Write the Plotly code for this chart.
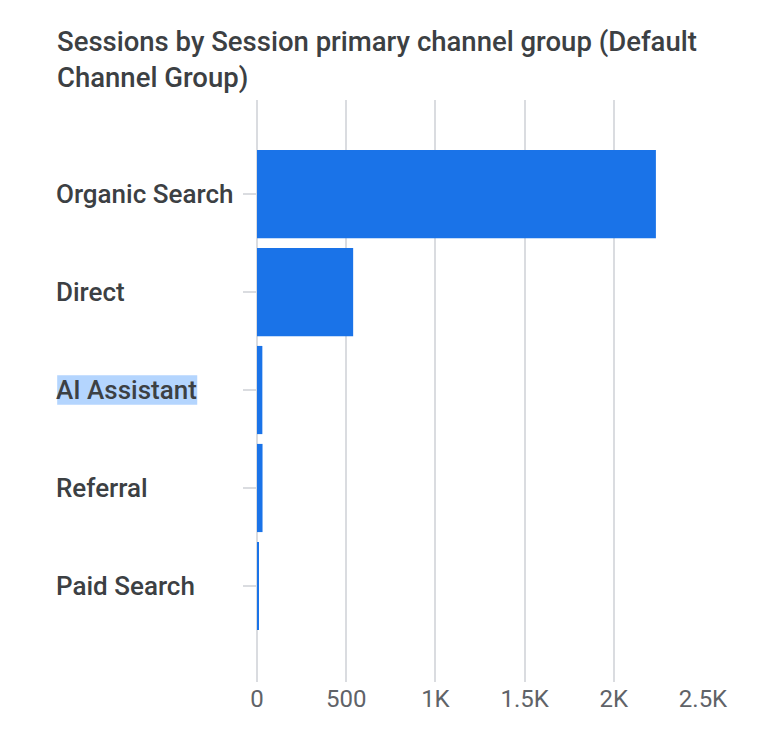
import plotly.graph_objects as go

channels = ["Organic Search", "Direct", "AI Assistant", "Referral", "Paid Search"]
sessions = [2236, 539, 30, 31, 9]
tick_vals = [0, 500, 1000, 1500, 2000, 2500]
tick_text = ["0", "500", "1K", "1.5K", "2K", "2.5K"]
highlighted = "AI Assistant"

fig = go.Figure(
    go.Bar(
        x=sessions,
        y=channels,
        orientation="h",
        marker=dict(color="#1a73e8", line=dict(width=0)),
        width=0.9,
    )
)

# category labels, left aligned like the GA card
for name in channels:
    fig.add_annotation(
        x=-0.455, xref="paper", xanchor="left",
        y=name, yref="y",
        text=name, showarrow=False,
        font=dict(size=26, color="#3c4043", weight=500),
    )

# selection highlight behind one category label
hi = channels.index(highlighted)
fig.add_shape(
    type="rect",
    xref="paper", yref="y",
    x0=-0.448, x1=-0.134,
    y0=hi - 0.15, y1=hi + 0.15,
    fillcolor="#b4d5fe", line=dict(width=0),
    layer="below",
)

fig.update_layout(
    width=780,
    height=744,
    plot_bgcolor="white",
    paper_bgcolor="white",
    font=dict(family="Roboto", color="#3c4043"),
    title=dict(
        text="Sessions by Session primary channel group (Default<br>Channel Group)",
        xref="container", yref="container",
        x=49 / 780, xanchor="left",
        y=1 - 43 / 744, yanchor="top",
        font=dict(size=27.5, color="#3c4043", weight=500),
    ),
    margin=dict(l=249, r=85, t=92, b=70),
    showlegend=False,
    bargap=0.1,
)

fig.update_xaxes(
    range=[0, 2500],
    tickvals=tick_vals,
    ticktext=tick_text,
    showgrid=True,
    gridcolor="#dadce0",
    gridwidth=2,
    zeroline=True,
    zerolinecolor="#dadce0",
    zerolinewidth=2,
    showline=False,
    tickfont=dict(size=24, color="#5f6368"),
)

fig.update_yaxes(
    range=[4.98, -0.96],
    showgrid=False,
    zeroline=False,
    showline=False,
    ticks="outside",
    ticklen=13,
    tickwidth=2,
    tickcolor="#dadce0",
    showticklabels=False,
)

fig.write_html("out.html")
